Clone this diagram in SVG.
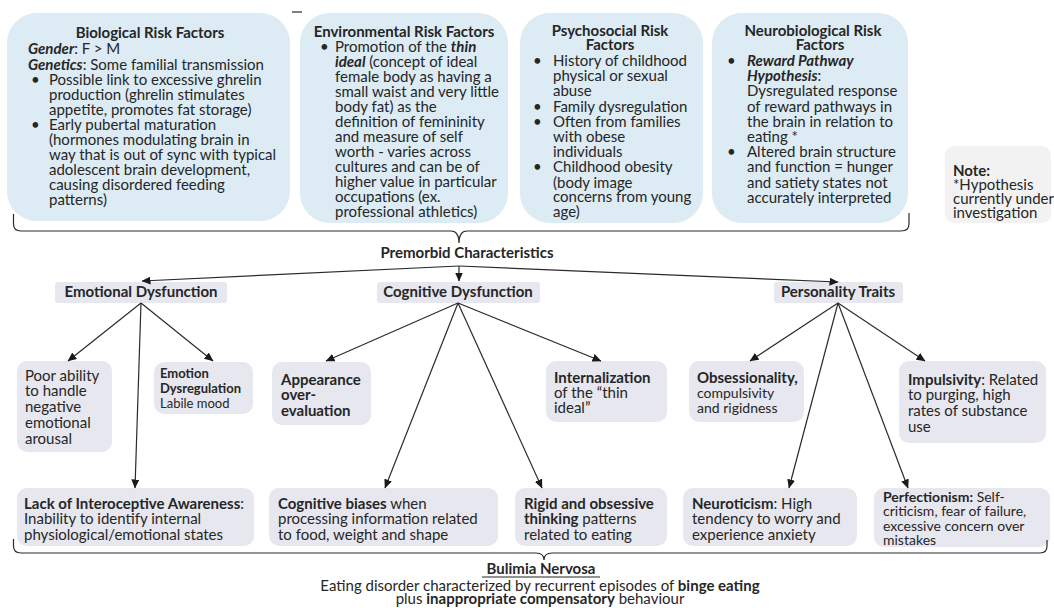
<svg xmlns="http://www.w3.org/2000/svg" width="1054" height="608" viewBox="0 0 1054 608">
<defs>
<style>
text{font-family:Lato,"Liberation Sans",sans-serif;font-size:15px;fill:#262626}
.b{font-weight:bold}
.bi{font-weight:bold;font-style:italic}
.c{text-anchor:middle}
.s13{font-size:13px}
.s14{font-size:14px}
.top{fill:#dcebf4}
.gr{fill:#e7e7ef}
.note{fill:#f2f2f2}
.ln{stroke:#2b2b2b;stroke-width:1.2;fill:none}
.ar{stroke:#2b2b2b;stroke-width:1.2;fill:none;marker-end:url(#ah)}
</style>
<marker id="ah" markerWidth="9" markerHeight="8" refX="8.5" refY="4" orient="auto" markerUnits="userSpaceOnUse">
<path d="M0,0 L9,4 L0,8 Z" fill="#1a1a1a"/>
</marker>
</defs>
<rect width="1054" height="608" fill="#ffffff"/>
<line x1="292" y1="12" x2="302" y2="12" class="ln"/>

<g id="bio">
<rect class="top" x="7" y="13" width="283" height="208" rx="30"/>
<text class="b c" x="150" y="38">Biological Risk Factors</text>
<text x="28" y="54"><tspan class="bi">Gender</tspan>: F &gt; M</text>
<text x="28" y="70"><tspan class="bi">Genetics</tspan>: Some familial transmission</text>
<text x="31" y="85">•</text>
<text x="49" y="85">Possible link to excessive ghrelin</text>
<text x="49" y="100">production (ghrelin stimulates</text>
<text x="49" y="115">appetite, promotes fat storage)</text>
<text x="31" y="130">•</text>
<text x="49" y="130">Early pubertal maturation</text>
<text x="49" y="145">(hormones modulating brain in</text>
<text x="49" y="160">way that is out of sync with typical</text>
<text x="49" y="175">adolescent brain development,</text>
<text x="49" y="190">causing disordered feeding</text>
<text x="49" y="205">patterns)</text>
</g>

<g id="env">
<rect class="top" x="300" y="13" width="208" height="210" rx="30"/>
<text class="b c" x="404" y="37">Environmental Risk Factors</text>
<text x="320" y="52">•</text>
<text x="335" y="52">Promotion of the <tspan class="bi">thin</tspan></text>
<text x="335" y="67"><tspan class="bi">ideal</tspan> (concept of ideal</text>
<text x="335" y="82">female body as having a</text>
<text x="335" y="97">small waist and very little</text>
<text x="335" y="112">body fat) as the</text>
<text x="335" y="127">definition of femininity</text>
<text x="335" y="142">and measure of self</text>
<text x="335" y="157">worth - varies across</text>
<text x="335" y="172">cultures and can be of</text>
<text x="335" y="187">higher value in particular</text>
<text x="335" y="202">occupations (ex.</text>
<text x="335" y="217">professional athletics)</text>
</g>

<g id="psycho">
<rect class="top" x="520" y="13" width="183" height="210" rx="30"/>
<text class="b c" x="610" y="36">Psychosocial Risk</text>
<text class="b c" x="610" y="50">Factors</text>
<text x="533" y="66">•</text>
<text x="553" y="66">History of childhood</text>
<text x="553" y="81">physical or sexual</text>
<text x="553" y="96">abuse</text>
<text x="533" y="112">•</text>
<text x="553" y="112">Family dysregulation</text>
<text x="533" y="127">•</text>
<text x="553" y="127">Often from families</text>
<text x="553" y="142">with obese</text>
<text x="553" y="157">individuals</text>
<text x="533" y="172">•</text>
<text x="553" y="172">Childhood obesity</text>
<text x="553" y="188">(body image</text>
<text x="553" y="202">concerns from young</text>
<text x="553" y="217">age)</text>
</g>

<g id="neuro">
<rect class="top" x="712" y="13" width="196" height="210" rx="30"/>
<text class="b c" x="813" y="36">Neurobiological Risk</text>
<text class="b c" x="820" y="50">Factors</text>
<text x="727" y="66">•</text>
<text x="747" y="66" class="bi">Reward Pathway</text>
<text x="747" y="81"><tspan class="bi">Hypothesis</tspan>:</text>
<text x="747" y="96">Dysregulated response</text>
<text x="747" y="112">of reward pathways in</text>
<text x="747" y="127">the brain in relation to</text>
<text x="747" y="142">eating *</text>
<text x="727" y="157">•</text>
<text x="747" y="157">Altered brain structure</text>
<text x="747" y="172">and function = hunger</text>
<text x="747" y="188">and satiety states not</text>
<text x="747" y="203">accurately interpreted</text>
</g>

<g id="note">
<rect class="note" x="945" y="146" width="106" height="77" rx="9"/>
<text class="b" x="953" y="176">Note:</text>
<text x="953" y="190">*Hypothesis</text>
<text x="953" y="204">currently under</text>
<text x="953" y="218">investigation</text>
</g>

<g id="premorbid">
<text class="b c" x="467" y="258">Premorbid Characteristics</text>
</g>

<g id="emo">
<rect class="gr" x="55" y="282" width="172" height="21" rx="3"/>
<text class="b c" x="141" y="297">Emotional Dysfunction</text>
</g>
<g id="cog">
<rect class="gr" x="377" y="282" width="163" height="21" rx="3"/>
<text class="b c" x="458" y="297">Cognitive Dysfunction</text>
</g>
<g id="pers">
<rect class="gr" x="774" y="282" width="129" height="21" rx="3"/>
<text class="b c" x="838" y="297">Personality Traits</text>
</g>

<g id="poor">
<rect class="gr" x="17" y="361" width="95" height="91" rx="10"/>
<text x="25" y="381">Poor ability</text>
<text x="25" y="396">to handle</text>
<text x="25" y="412">negative</text>
<text x="25" y="428">emotional</text>
<text x="25" y="444">arousal</text>
</g>
<g id="emodys">
<rect class="gr" x="154" y="362" width="99" height="52" rx="10"/>
<text class="b s13" x="160" y="378">Emotion</text>
<text class="b s13" x="160" y="393">Dysregulation</text>
<text class="s13" x="160" y="408">Labile mood</text>
</g>
<g id="appear">
<rect class="gr" x="272" y="362" width="99" height="63" rx="10"/>
<text class="b" x="281" y="385">Appearance</text>
<text class="b" x="281" y="400">over-</text>
<text class="b" x="281" y="416">evaluation</text>
</g>
<g id="intern">
<rect class="gr" x="546" y="361" width="121" height="61" rx="10"/>
<text class="b" x="554" y="383">Internalization</text>
<text x="554" y="398">of the “thin</text>
<text x="554" y="413">ideal”</text>
</g>
<g id="obsess">
<rect class="gr" x="689" y="361" width="115" height="61" rx="10"/>
<text class="b" x="697" y="383">Obsessionality,</text>
<text class="s14" x="697" y="398">compulsivity</text>
<text class="s14" x="697" y="413">and rigidness</text>
</g>
<g id="impuls">
<rect class="gr" x="899" y="361" width="147" height="82" rx="10"/>
<text x="908" y="385"><tspan class="b">Impulsivity</tspan>: Related</text>
<text x="908" y="400">to purging, high</text>
<text x="908" y="416">rates of substance</text>
<text x="908" y="432">use</text>
</g>

<g id="lack">
<rect class="gr" x="17" y="488" width="237" height="58" rx="10"/>
<text x="24" y="509"><tspan class="b">Lack of Interoceptive Awareness</tspan>:</text>
<text x="24" y="524">Inability to identify internal</text>
<text x="24" y="540">physiological/emotional states</text>
</g>
<g id="biases">
<rect class="gr" x="269" y="488" width="229" height="58" rx="10"/>
<text x="278" y="509"><tspan class="b">Cognitive biases</tspan> when</text>
<text x="278" y="524">processing information related</text>
<text x="278" y="540">to food, weight and shape</text>
</g>
<g id="rigid">
<rect class="gr" x="515" y="488" width="152" height="58" rx="10"/>
<text class="b" x="524" y="509">Rigid and obsessive</text>
<text x="524" y="524"><tspan class="b">thinking</tspan> patterns</text>
<text x="524" y="540">related to eating</text>
</g>
<g id="neurot">
<rect class="gr" x="683" y="488" width="174" height="58" rx="10"/>
<text x="692" y="509"><tspan class="b">Neuroticism</tspan>: High</text>
<text x="692" y="524">tendency to worry and</text>
<text x="692" y="540">experience anxiety</text>
</g>
<g id="perfect">
<rect class="gr" x="874" y="488" width="176" height="59" rx="10"/>
<text class="s14" x="883" y="502"><tspan class="b">Perfectionism:</tspan> Self-</text>
<text class="s14" x="883" y="516">criticism, fear of failure,</text>
<text class="s14" x="883" y="531">excessive concern over</text>
<text class="s14" x="883" y="545">mistakes</text>
</g>

<g id="bulimia">
<text class="b c" x="541" y="574">Bulimia Nervosa</text>
<line x1="482" y1="577" x2="600" y2="577" stroke="#262626" stroke-width="1.2"/>
<text class="c" x="540" y="591">Eating disorder characterized by recurrent episodes of <tspan class="b">binge eating</tspan></text>
<text class="c" x="540" y="604">plus <tspan class="b">inappropriate compensatory</tspan> behaviour</text>
</g>

<g id="connectors">
<path class="ln" d="M13.5,214 L13.5,224 Q13.5,231 21,231 L451,231 Q459,231 459,243 Q459,231 467,231 L901,231 Q909,231 909,224 L909,213"/>
<path class="ln" d="M13.5,539 L13.5,546 Q13.5,553 21,553 L536,553 Q544,553 544,560 Q544,553 552,553 L1040,553 Q1047,553 1047,546 L1047,540"/>
<line class="ar" x1="459" y1="266" x2="142" y2="281"/>
<line class="ar" x1="459" y1="266" x2="459" y2="281"/>
<line class="ar" x1="459" y1="266" x2="838" y2="282"/>
<line class="ar" x1="141" y1="303" x2="68" y2="361"/>
<line class="ar" x1="141" y1="303" x2="213" y2="361"/>
<line class="ar" x1="141" y1="303" x2="135" y2="488"/>
<line class="ar" x1="458" y1="303" x2="326" y2="361"/>
<line class="ar" x1="458" y1="303" x2="601" y2="361"/>
<line class="ar" x1="458" y1="303" x2="385" y2="488"/>
<line class="ar" x1="458" y1="303" x2="542" y2="488"/>
<line class="ar" x1="838" y1="303" x2="750" y2="361"/>
<line class="ar" x1="838" y1="303" x2="925" y2="361"/>
<line class="ar" x1="838" y1="303" x2="789" y2="488"/>
<line class="ar" x1="838" y1="303" x2="908" y2="488"/>
</g>
</svg>
